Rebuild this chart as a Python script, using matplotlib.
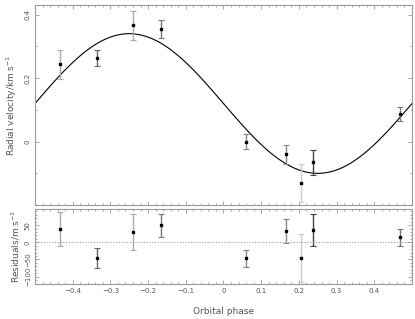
import numpy as np
import matplotlib.pyplot as plt
from matplotlib.ticker import MultipleLocator

# observed radial velocities (km/s) against orbital phase
phase = [-0.433, -0.336, -0.239, -0.165, 0.060, 0.167, 0.205, 0.237, 0.468]
rv = [0.243, 0.263, 0.366, 0.355, 0.000, -0.040, -0.130, -0.065, 0.087]
rv_err = [0.046, 0.025, 0.045, 0.029, 0.023, 0.030, 0.060, 0.040, 0.022]
# residuals (m/s)
res = [38, -47, 30, 49, -46, 32, -46, 36, 14]
res_err = [50, 29, 52, 33, 25, 35, 69, 47, 25]
bar_grey = ['#aaaaaa', '#666666', '#aaaaaa', '#777777', '#888888',
            '#888888', '#cccccc', '#444444', '#777777']

# circular orbit fit
gamma = 0.12
K = 0.22

txt = '#555555'
spine = '#999999'

fig = plt.figure(figsize=(4.15, 3.19), dpi=100)
ax1 = fig.add_axes([0.0843, 0.357, 0.9085, 0.627])
ax2 = fig.add_axes([0.0843, 0.110, 0.9085, 0.235])

ph = np.linspace(-0.5, 0.5, 400)
ax1.plot(ph, gamma - K * np.sin(2 * np.pi * ph), color='black', lw=0.8)

for i in range(len(phase)):
    ax1.errorbar(phase[i], rv[i], yerr=rv_err[i], fmt='s', ms=1.8, color='black',
                 ecolor=bar_grey[i], elinewidth=1.0, capsize=2, capthick=0.8)
    ax2.errorbar(phase[i], res[i], yerr=res_err[i], fmt='s', ms=1.8, color='black',
                 ecolor=bar_grey[i], elinewidth=1.0, capsize=2, capthick=0.8)

ax2.axhline(0, color='#999999', lw=0.8, ls=(0, (1, 1.5)))

ax1.set_xlim(-0.5, 0.5)
ax2.set_xlim(-0.5, 0.5)
ax1.set_ylim(-0.2, 0.43)
ax2.set_ylim(-121, 97)

ax1.xaxis.set_major_locator(MultipleLocator(0.1))
ax1.xaxis.set_minor_locator(MultipleLocator(0.02))
ax2.xaxis.set_major_locator(MultipleLocator(0.1))
ax2.xaxis.set_minor_locator(MultipleLocator(0.02))
ax1.yaxis.set_major_locator(MultipleLocator(0.2))
ax1.yaxis.set_minor_locator(MultipleLocator(0.1))
ax2.yaxis.set_major_locator(MultipleLocator(50))
ax2.yaxis.set_minor_locator(MultipleLocator(10))

ax1.set_yticks([0, 0.2, 0.4])
ax1.set_yticklabels(['0', '0.2', '0.4'])
ax2.set_xticks([-0.4, -0.3, -0.2, -0.1, 0, 0.1, 0.2, 0.3, 0.4])
ax2.set_xticklabels(['\u22120.4', '\u22120.3', '\u22120.2', '\u22120.1', '0',
                     '0.1', '0.2', '0.3', '0.4'])
ax2.set_yticks([-100, -50, 0, 50])
ax2.set_yticklabels(['\u2212100', '\u221250', '0', '50'])

for ax in (ax1, ax2):
    for s in ax.spines.values():
        s.set_color(spine)
        s.set_linewidth(0.8)
    ax.tick_params(which='both', direction='in', top=True, right=True,
                   colors=spine, labelcolor=txt, labelsize=5)
    ax.tick_params(which='major', length=3, width=0.6)
    ax.tick_params(which='minor', length=1.5, width=0.6)
    for lab in ax.get_yticklabels():
        lab.set_rotation(90)
        lab.set_va('center')
ax1.tick_params(axis='x', labelbottom=False)
ax1.tick_params(axis='y', pad=3)
ax2.tick_params(axis='y', pad=3)
ax2.tick_params(axis='x', pad=3)

ax1.set_ylabel('Radial velocity/km s$^{-1}$', color=txt, fontsize=6.5, labelpad=4)
ax2.set_ylabel('Residuals/m s$^{-1}$', color=txt, fontsize=6.5, labelpad=2)
ax2.set_xlabel('Orbital phase', color=txt, fontsize=6.5, labelpad=9)
fig.align_ylabels([ax1, ax2])

fig.savefig('out.png', dpi=100)
